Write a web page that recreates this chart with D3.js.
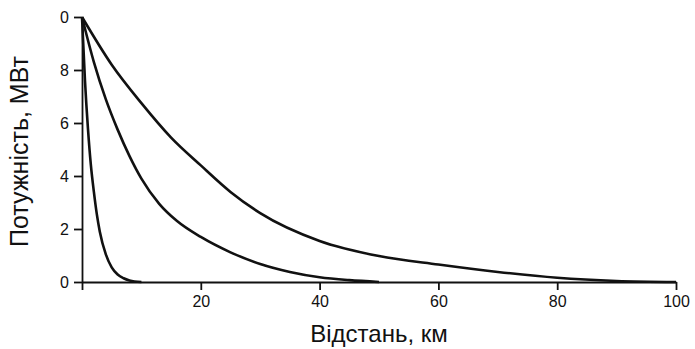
<!DOCTYPE html>
<html>
<head>
<meta charset="utf-8">
<script src="https://cdn.jsdelivr.net/npm/d3@7"></script>
<style>
  body { margin: 0; background: #fff; }
  svg { display: block; font-family: "Liberation Sans", Arial, sans-serif; }
</style>
</head>
<body>
<svg width="695" height="349"></svg>
<script>
// distance (km) / power (MW)
const fastX = [0, 0.5, 1, 1.5, 2, 2.5, 3, 4, 5, 6, 7, 8, 10];
const fastY = [10, 7.6, 5.8, 4.4, 3.4, 2.55, 1.9, 1.05, 0.55, 0.28, 0.14, 0.06, 0];

const midX = [0, 2, 4, 6, 8, 10, 13, 16, 20, 25, 30, 35, 40, 45, 50];
const midY = [10, 8.3, 6.9, 5.75, 4.75, 3.9, 2.95, 2.3, 1.7, 1.12, 0.68, 0.38, 0.18, 0.07, 0];

const slowX = [0, 5, 10, 15, 20, 25, 30, 40, 50, 60, 70, 80, 90, 100];
const slowY = [10, 8.2, 6.75, 5.45, 4.4, 3.4, 2.6, 1.55, 0.98, 0.66, 0.38, 0.16, 0.04, 0];

const xTicks = [0, 20, 40, 60, 80, 100];
const xTickLabels = ["", "20", "40", "60", "80", "100"];
const yTicks = [0, 2, 4, 6, 8, 10];
const yTickLabels = ["0", "2", "4", "6", "8", "0"];

const xTitle = "Відстань, км";
const yTitle = "Потужність, МВт";

const svg = d3.select("svg");

const x = d3.scaleLinear().domain([0, 100]).range([82, 676]);
const y = d3.scaleLinear().domain([0, 10]).range([282, 17]);

// axes
const gx = svg.append("g")
    .attr("transform", `translate(0,${y(0)})`)
    .call(d3.axisBottom(x)
        .tickValues(xTicks)
        .tickFormat((d, i) => xTickLabels[i])
        .tickSize(8)
        .tickSizeOuter(0)
        .tickPadding(6));

const gy = svg.append("g")
    .attr("transform", `translate(${x(0)},0)`)
    .call(d3.axisLeft(y)
        .tickValues(yTicks)
        .tickFormat((d, i) => yTickLabels[i])
        .tickSize(8)
        .tickSizeOuter(0)
        .tickPadding(5));

[gx, gy].forEach(g => {
    g.attr("font-size", 16)
        .attr("font-family", "Liberation Sans, Arial, sans-serif")
        .attr("color", "#111");
    g.selectAll("line, path").attr("stroke-width", 1.8);
});

// curves
const line = d3.line()
    .x(d => x(d[0]))
    .y(d => y(d[1]))
    .curve(d3.curveMonotoneX);

const series = [
    d3.zip(fastX, fastY),
    d3.zip(midX, midY),
    d3.zip(slowX, slowY)
];

svg.append("g")
    .attr("fill", "none")
    .attr("stroke", "#111")
    .attr("stroke-width", 2.6)
    .attr("stroke-linejoin", "round")
    .selectAll("path")
    .data(series)
    .join("path")
    .attr("d", line);

// axis titles
svg.append("text")
    .attr("x", (x(0) + x(100)) / 2)
    .attr("y", 342)
    .attr("text-anchor", "middle")
    .attr("font-size", 24)
    .attr("fill", "#111")
    .text(xTitle);

svg.append("text")
    .attr("transform", `translate(28,${(y(0) + y(10)) / 2 + 2}) rotate(-90)`)
    .attr("text-anchor", "middle")
    .attr("font-size", 25)
    .attr("fill", "#111")
    .text(yTitle);
</script>
</body>
</html>
